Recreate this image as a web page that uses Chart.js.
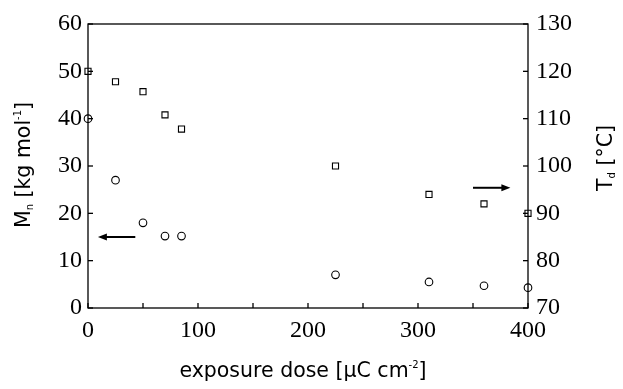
<!DOCTYPE html>
<html>
<head>
<meta charset="utf-8">
<script src="https://cdn.jsdelivr.net/npm/chart.js@4.4.1/dist/chart.umd.min.js"></script>
<style>
html, body { margin: 0; padding: 0; background: #fff; }
#wrap { width: 623px; height: 389px; }
</style>
</head>
<body>
<div id="wrap"><canvas id="grafica"></canvas></div>
<script>
// exposure dose [uC cm-2]
const doses = [0, 25, 50, 70, 85, 225, 310, 360, 400];
// Mn [kg mol-1], left axis
const mnValues = [40, 27, 18, 15.2, 15.2, 7, 5.5, 4.7, 4.3];
// Td [°C], right axis
const tdValues = [120, 117.8, 115.7, 110.8, 107.8, 100, 94, 92, 90];

const xLabelTicks = [0, 100, 200, 300, 400];

const tickFont = { family: "'Liberation Serif', 'Times New Roman', serif", size: 24 };
const titleFont = "20.5px 'DejaVu Sans', sans-serif";
const smallFont = "10px 'DejaVu Sans', sans-serif";

// arrows pointing to the axis of each series (data coords)
const arrows = [
  { axis: "y", x1: 43, x2: 9, y: 15 },
  { axis: "y2", x1: 350, x2: 384, y: 95.4 }
];

function drawRich(ctx, parts, cx, cy, rot) {
  ctx.save();
  ctx.translate(cx, cy);
  ctx.rotate(rot);
  ctx.fillStyle = "#000";
  ctx.textBaseline = "alphabetic";
  let total = 0;
  parts.forEach(p => {
    ctx.font = p.sub || p.sup ? smallFont : titleFont;
    p.w = ctx.measureText(p.t).width;
    total += p.w;
  });
  let x = -total / 2;
  parts.forEach(p => {
    ctx.font = p.sub || p.sup ? smallFont : titleFont;
    let dy = 0;
    if (p.sub) dy = 3;
    if (p.sup) dy = -9;
    ctx.fillText(p.t, x, 7 + dy);
    x += p.w;
  });
  ctx.restore();
}

const marcoPlugin = {
  id: "marco",
  afterDraw(chart) {
    const ctx = chart.ctx;
    const a = chart.chartArea;
    ctx.save();
    ctx.strokeStyle = "#000";
    ctx.lineWidth = 1.3;
    ctx.strokeRect(a.left, a.top, a.right - a.left, a.bottom - a.top);

    // inward ticks
    const len = 5;
    chart.scales.x.ticks.forEach(t => {
      const px = chart.scales.x.getPixelForValue(t.value);
      ctx.beginPath(); ctx.moveTo(px, a.bottom); ctx.lineTo(px, a.bottom - len); ctx.stroke();
    });
    chart.scales.y.ticks.forEach(t => {
      const py = chart.scales.y.getPixelForValue(t.value);
      ctx.beginPath(); ctx.moveTo(a.left, py); ctx.lineTo(a.left + len, py); ctx.stroke();
    });
    chart.scales.y2.ticks.forEach(t => {
      const py = chart.scales.y2.getPixelForValue(t.value);
      ctx.beginPath(); ctx.moveTo(a.right, py); ctx.lineTo(a.right - len, py); ctx.stroke();
    });

    // arrows
    ctx.fillStyle = "#000";
    ctx.lineWidth = 2;
    arrows.forEach(ar => {
      const sx = chart.scales.x;
      const sy = chart.scales[ar.axis];
      const x1 = sx.getPixelForValue(ar.x1);
      const x2 = sx.getPixelForValue(ar.x2);
      const py = sy.getPixelForValue(ar.y);
      const dir = Math.sign(x2 - x1);
      ctx.beginPath(); ctx.moveTo(x1, py); ctx.lineTo(x2 - dir * 6, py); ctx.stroke();
      ctx.beginPath();
      ctx.moveTo(x2, py);
      ctx.lineTo(x2 - dir * 9, py - 3.5);
      ctx.lineTo(x2 - dir * 9, py + 3.5);
      ctx.closePath();
      ctx.fill();
    });

    // axis titles
    drawRich(ctx, [{ t: "exposure dose [\u00b5C cm" }, { t: "-2", sup: true }, { t: "]" }],
      (a.left + a.right) / 2 - 5, 370, 0);
    drawRich(ctx, [{ t: "M" }, { t: "n", sub: true }, { t: " [kg mol" }, { t: "-1", sup: true }, { t: "]" }],
      23, 165, -Math.PI / 2);
    drawRich(ctx, [{ t: "T" }, { t: "d", sub: true }, { t: " [\u00b0C]" }],
      605, 158, -Math.PI / 2);
    ctx.restore();
  }
};

const ctx = document.getElementById("grafica");

new Chart(ctx, {
  type: "scatter",
  data: {
    datasets: [
      {
        label: "Mn",
        data: doses.map((d, i) => ({ x: d, y: mnValues[i] })),
        yAxisID: "y",
        clip: false,
        pointStyle: "circle",
        pointRadius: 3.8,
        pointBackgroundColor: "#fff",
        pointBorderColor: "#000",
        pointBorderWidth: 1.1
      },
      {
        label: "Td",
        data: doses.map((d, i) => ({ x: d, y: tdValues[i] })),
        yAxisID: "y2",
        clip: false,
        pointStyle: "rect",
        pointRadius: 4.3,
        pointBackgroundColor: "#fff",
        pointBorderColor: "#000",
        pointBorderWidth: 1.1
      }
    ]
  },
  options: {
    responsive: true,
    maintainAspectRatio: false,
    animation: false,
    layout: { padding: { top: 24, right: 0, bottom: 0, left: 0 } },
    plugins: { legend: { display: false }, tooltip: { enabled: false } },
    scales: {
      x: {
        type: "linear",
        min: 0,
        max: 400,
        grid: { display: false, drawTicks: false },
        border: { display: false },
        afterFit(s) { s.height = 81; },
        ticks: {
          stepSize: 50,
          color: "#000",
          font: tickFont,
          padding: 8,
          maxRotation: 0,
          autoSkip: false,
          callback: v => xLabelTicks.includes(v) ? v : ""
        }
      },
      y: {
        position: "left",
        min: 0,
        max: 60,
        grid: { display: false, drawTicks: false },
        border: { display: false },
        afterFit(s) { s.width = 88; },
        ticks: { stepSize: 10, color: "#000", font: tickFont, padding: 6 }
      },
      y2: {
        position: "right",
        min: 70,
        max: 130,
        grid: { display: false, drawTicks: false },
        border: { display: false },
        afterFit(s) { s.width = 95; },
        ticks: { stepSize: 10, color: "#000", font: tickFont, padding: 8 }
      }
    }
  },
  plugins: [marcoPlugin]
});
</script>
</body>
</html>
